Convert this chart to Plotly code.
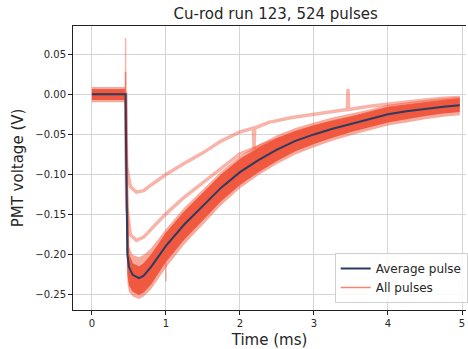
import plotly.graph_objects as go

# ---------------- data ----------------
t_grid = [0.0, 0.10, 0.20, 0.30, 0.40, 0.455, 0.465, 0.48, 0.50, 0.55, 0.637, 0.70, 0.80,
          0.90, 1.00, 1.25, 1.50, 1.75, 2.00, 2.25, 2.50, 2.75, 3.00, 3.25, 3.50, 3.75, 4.00,
          4.25, 4.50, 4.75, 4.97]

avg_pulse = [0.0, 0.0, 0.0, 0.0, 0.0, 0.0, -0.100, -0.200, -0.215, -0.225, -0.229, -0.226,
             -0.215, -0.202, -0.189, -0.162, -0.139, -0.116, -0.097, -0.082, -0.069, -0.058,
             -0.050, -0.043, -0.037, -0.031, -0.025, -0.021, -0.018, -0.0155, -0.0135]

inner_hi = [0.006, 0.006, 0.006, 0.006, 0.006, 0.006, -0.030, -0.120, -0.200, -0.211, -0.215,
            -0.211, -0.200, -0.187, -0.173, -0.146, -0.123, -0.100, -0.081, -0.067, -0.055,
            -0.046, -0.039, -0.033, -0.028, -0.022, -0.016, -0.013, -0.010, -0.0075, -0.0055]
inner_lo = [-0.007, -0.007, -0.007, -0.007, -0.007, -0.007, -0.170, -0.225, -0.238, -0.246,
            -0.250, -0.247, -0.237, -0.223, -0.209, -0.181, -0.157, -0.133, -0.113, -0.097,
            -0.083, -0.071, -0.062, -0.054, -0.047, -0.041, -0.035, -0.031, -0.027, -0.024,
            -0.022]

outer_hi = [0.009, 0.009, 0.009, 0.009, 0.009, 0.009, -0.005, -0.080, -0.190, -0.200, -0.203,
            -0.200, -0.192, -0.180, -0.168, -0.141, -0.118, -0.096, -0.077, -0.063, -0.051,
            -0.042, -0.035, -0.029, -0.024, -0.019, -0.013, -0.010, -0.007, -0.005, -0.003]
outer_lo = [-0.010, -0.010, -0.010, -0.010, -0.010, -0.010, -0.190, -0.235, -0.246, -0.252,
            -0.255, -0.252, -0.243, -0.230, -0.216, -0.187, -0.162, -0.138, -0.117, -0.101,
            -0.087, -0.075, -0.066, -0.058, -0.051, -0.045, -0.039, -0.035, -0.031, -0.028,
            -0.026]

pulse_a_t = [0.0, 0.455, 0.47, 0.52, 0.60, 0.70, 0.80, 1.00, 1.25, 1.50, 1.75, 1.93, 2.00,
             2.18, 2.19, 2.20, 2.39, 2.70, 3.00, 3.25, 3.45, 3.46, 3.47, 3.75, 4.00, 4.25,
             4.50, 4.75, 4.97]
pulse_a_v = [0.0, 0.0, -0.090, -0.115, -0.122, -0.120, -0.113, -0.100, -0.086, -0.073,
             -0.058, -0.050, -0.047, -0.042, -0.068, -0.042, -0.035, -0.029, -0.025, -0.022,
             -0.019, 0.0066, -0.019, -0.015, -0.012, -0.009, -0.007, -0.005, -0.004]

pulse_b_t = [0.0, 0.455, 0.47, 0.52, 0.60, 0.70, 0.80, 1.00, 1.25, 1.50, 1.75, 2.00, 2.39,
             2.83, 3.00, 3.50, 4.00, 4.50, 4.97]
pulse_b_v = [0.0, 0.0, -0.140, -0.175, -0.182, -0.178, -0.168, -0.149, -0.128, -0.110,
             -0.091, -0.074, -0.060, -0.047, -0.042, -0.031, -0.020, -0.013, -0.008]

spike_t = [0.455, 0.455, 1.00]
spike_lo = [0.0, 0.0, -0.233]
spike_hi = [0.070, 0.028, -0.210]

x_ticks = [0, 1, 2, 3, 4, 5]
y_ticks = [0.05, 0.0, -0.05, -0.10, -0.15, -0.20, -0.25]

TITLE = "Cu-rod run 123, 524 pulses"
X_LABEL = "Time (ms)"
Y_LABEL = "PMT voltage (V)"

# ---------------- styles ----------------
DARK = "#2c3b60"
RED = "#f0583f"
RED_LIGHT = "rgba(240,88,63,0.45)"
RED_MID = "rgba(246,110,88,0.85)"
FONT = "DejaVu Sans"
TXT = "#262626"

fig = go.Figure()

# outer (sparse) band of pulses
fig.add_trace(go.Scatter(x=t_grid, y=outer_lo, mode="lines", line=dict(width=0),
                         showlegend=False, hoverinfo="skip"))
fig.add_trace(go.Scatter(x=t_grid, y=outer_hi, mode="lines", line=dict(width=0),
                         fill="tonexty", fillcolor="rgba(240,88,63,0.5)",
                         showlegend=False, hoverinfo="skip"))
# inner (dense) band of pulses
fig.add_trace(go.Scatter(x=t_grid, y=inner_lo, mode="lines", line=dict(width=0),
                         showlegend=False, hoverinfo="skip"))
fig.add_trace(go.Scatter(x=t_grid, y=inner_hi, mode="lines", line=dict(width=0.8, color=RED),
                         fill="tonexty", fillcolor=RED,
                         showlegend=False, hoverinfo="skip"))
# outlier pulses
fig.add_trace(go.Scatter(x=pulse_a_t, y=pulse_a_v, mode="lines",
                         line=dict(color=RED_LIGHT, width=3.5), showlegend=False,
                         hoverinfo="skip"))
fig.add_trace(go.Scatter(x=pulse_b_t, y=pulse_b_v, mode="lines",
                         line=dict(color=RED_LIGHT, width=3.5), showlegend=False,
                         hoverinfo="skip"))
# spikes
for i in range(len(spike_t)):
    col = RED_MID if i == 1 else RED_LIGHT
    fig.add_trace(go.Scatter(x=[spike_t[i], spike_t[i]], y=[spike_lo[i], spike_hi[i]],
                             mode="lines", line=dict(color=col, width=1.5),
                             name="All pulses", showlegend=(i == 1), legendrank=2,
                             hoverinfo="skip"))
# average
fig.add_trace(go.Scatter(x=t_grid, y=avg_pulse, mode="lines", name="Average pulse",
                         line=dict(color=DARK, width=2), legendrank=1))

L, T, B = 73, 26, 39
W, H = 468, 349
fig.update_layout(
    width=W, height=H,
    margin=dict(l=L, r=0, t=T, b=B),
    paper_bgcolor="white", plot_bgcolor="white",
    font=dict(family=FONT, color=TXT, size=10),
    title=dict(text=TITLE, x=275.7 / W, xanchor="center", y=1 - 14 / H, yanchor="middle",
               xref="container", yref="container", font=dict(size=15, color=TXT)),
    showlegend=True,
    legend=dict(x=(336 - L) / (W - L), xanchor="left", y=(310 - 303) / (H - T - B),
                yanchor="bottom", bgcolor="rgba(255,255,255,0.85)", bordercolor="#d0d0d0",
                borderwidth=1, font=dict(size=12, color=TXT), traceorder="normal",
                tracegroupgap=0),
)
fig.update_xaxes(
    range=[-0.2554, 5.054], tickvals=x_ticks, ticktext=[str(v) for v in x_ticks],
    showgrid=True, gridcolor="#d5d5d5", gridwidth=1, zeroline=False,
    showline=True, linecolor="#222222", linewidth=1, mirror=True,
    ticks="outside", ticklen=4, tickcolor="#222222",
    title=dict(text=X_LABEL, font=dict(size=15, color=TXT), standoff=6),
)
fig.update_yaxes(
    range=[-0.2688, 0.0851], tickvals=y_ticks, tickformat=".2f",
    showgrid=True, gridcolor="#d5d5d5", gridwidth=1, zeroline=False,
    showline=True, linecolor="#222222", linewidth=1,
    ticks="outside", ticklen=4, tickcolor="#222222",
    title=dict(text=Y_LABEL, font=dict(size=15, color=TXT), standoff=8),
)

fig.write_html("out.html")
